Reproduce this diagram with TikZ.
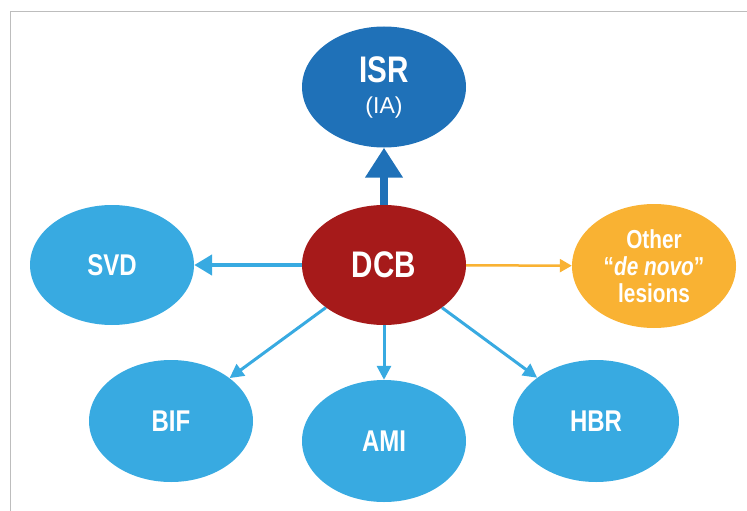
\documentclass[tikz,border=0pt]{standalone}
\usepackage{fontspec}
\setmainfont{Liberation Sans}
\newfontfamily\condfont{Liberation Sans}[FakeStretch=0.8]
\usetikzlibrary{shapes.geometric,arrows.meta}

\definecolor{isrblue}{HTML}{1F71B8}
\definecolor{dcbred}{HTML}{A61A1A}
\definecolor{lightblue}{HTML}{38AAE1}
\definecolor{novoorange}{HTML}{F9B233}
\definecolor{framegray}{HTML}{BDBDBD}

\begin{document}
\begin{tikzpicture}[x=1pt,y=-1pt,
	bubble/.style={ellipse, minimum width=164pt, minimum height=122pt, inner sep=0pt,
		text=white, align=center, font=\condfont\bfseries\fontsize{30}{30}\selectfont},
	bigtext/.style={font=\condfont\bfseries\fontsize{37}{37}\selectfont},
	thinarrow/.style={lightblue, line width=3pt, -{Triangle[width=14pt,length=14pt]}}]
	\useasboundingbox (0,0) rectangle (747,511);
	\draw[framegray, line width=1pt] (10,511) -- (10,12) -- (747,12);

	% nodes
	\node[bubble, bigtext, fill=isrblue, minimum height=121pt] (isr) at (384,87)
		{ISR\\[-6pt]{\normalfont\fontsize{23}{23}\selectfont (IA)}};
	\node[bubble, bigtext, fill=dcbred, minimum height=120pt] (dcb) at (384,265) {DCB};
	\node[bubble, fill=lightblue, minimum height=120pt] (svd) at (112,265) {SVD};
	\node[bubble, fill=novoorange, minimum height=124pt,
		font=\condfont\bfseries\fontsize{26}{27}\selectfont] (novo) at (654,266)
		{Other\\“\textit{de novo}”\\lesions};
	\node[bubble, fill=lightblue] (bif) at (171,421) {BIF};
	\node[bubble, fill=lightblue] (ami) at (384,441) {AMI};
	\node[bubble, fill=lightblue, minimum width=166pt] (hbr) at (596,421) {HBR};

	% arrows
	\draw[isrblue, line width=8pt, -{Triangle[width=36pt,length=30pt]}] (dcb) -- (isr);
	\draw[lightblue, line width=4.5pt, -{Triangle[width=20pt,length=18pt]}] (dcb) -- (svd);
	\draw[novoorange, line width=2.5pt, -{Triangle[width=13pt,length=12pt]}] (dcb) -- (novo);
	\foreach \t in {bif,ami,hbr} {
		\draw[thinarrow] (dcb) -- (\t);
	}
\end{tikzpicture}
\end{document}
